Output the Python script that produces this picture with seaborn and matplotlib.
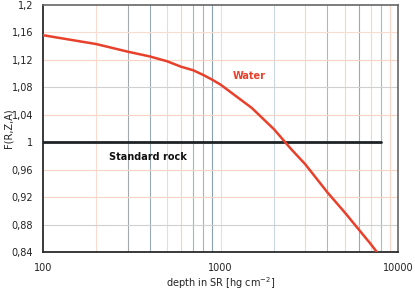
import numpy as np
import pandas as pd
import seaborn as sns
import matplotlib.pyplot as plt
from matplotlib.ticker import FixedLocator, FuncFormatter, MultipleLocator

# donnees
depth = [100, 200, 300, 400, 500, 600, 700, 800, 900, 1000, 1500, 2000, 2500, 3000, 4000, 5000, 6000, 7000, 7600]
f_water = [1.156, 1.143, 1.132, 1.125, 1.118, 1.110, 1.105, 1.098, 1.091, 1.084, 1.050, 1.019, 0.990, 0.968, 0.927,
           0.898, 0.873, 0.852, 0.840]
rock_depth = [100, 8000]
f_rock = [1.0, 1.0]
x_ticks = [100, 1000, 10000]
y_ticks = [0.84, 0.88, 0.92, 0.96, 1.0, 1.04, 1.08, 1.12, 1.16, 1.2]

sns.set_style("white")
plt.rcParams["font.family"] = ["DejaVu Sans"]

df = pd.DataFrame({"depth": depth, "F": f_water})
df_rock = pd.DataFrame({"depth": rock_depth, "F": f_rock})

fig = plt.figure(figsize=(4.15, 2.91), dpi=100)
ax = fig.add_axes([43 / 415, 1 - 252 / 291, 355 / 415, 247 / 291])

# grille (couleurs melangees comme sur l'original)
vcols = {200: "#f9dcd0", 300: "#a4a9ae", 400: "#9aabb6", 500: "#dcdfe1", 600: "#f6d2c2",
         700: "#9cb9c7", 800: "#aeb2b6", 900: "#8aa0ad", 1000: "#dfe1e3", 2000: "#ccd8df",
         3000: "#f8d6c8", 4000: "#a8b9c4", 5000: "#f8d6c8", 6000: "#95a9b6", 7000: "#f8d6c8",
         8000: "#a8b9c4", 9000: "#f8d6c8"}
for v, c in vcols.items():
    ax.axvline(v, color=c, lw=0.8, zorder=0)
hcols = {1.16: "#f9dcd0", 1.12: "#f8d4c4", 1.08: "#d0d0d0", 1.04: "#f8d4c4",
         0.96: "#f8d4c4", 0.92: "#f8d4c4", 0.88: "#d0d0d0"}
for v, c in hcols.items():
    ax.axhline(v, color=c, lw=0.8, zorder=0)

sns.lineplot(data=df_rock, x="depth", y="F", color="#1e2326", lw=2, ax=ax, zorder=3)
sns.lineplot(data=df, x="depth", y="F", color="#e8402a", lw=1.8, ax=ax, zorder=4)

ax.set_xscale("log")
ax.set_xlim(100, 10000)
ax.set_ylim(0.84, 1.2)
ax.xaxis.set_major_locator(FixedLocator(x_ticks))
ax.xaxis.set_minor_locator(FixedLocator([]))
ax.xaxis.set_major_formatter(FuncFormatter(lambda v, p: f"{v:.0f}"))
ax.yaxis.set_major_locator(FixedLocator(y_ticks))
ax.yaxis.set_minor_locator(MultipleLocator(0.008))
ax.yaxis.set_major_formatter(FuncFormatter(lambda v, p: f"{v:.2f}".rstrip("0").rstrip(".").replace(".", ",")))

ax.tick_params(axis="x", which="major", direction="out", length=3, width=0.8, color="#333333",
               labelsize=7, pad=5, labelcolor="#222222")
ax.tick_params(axis="y", which="major", direction="in", length=3, width=0.8, color="#555555",
               labelsize=7, pad=7, labelcolor="#222222")
ax.tick_params(axis="y", which="minor", direction="in", length=2, width=0.6, color="#777777")

for s in ["left", "bottom"]:
    ax.spines[s].set_color("#2a2a2a")
    ax.spines[s].set_linewidth(1.3)
for s in ["top", "right"]:
    ax.spines[s].set_color("#666666")
    ax.spines[s].set_linewidth(1.2)

ax.set_xlabel("depth in SR [hg cm$^{-2}$]", fontsize=7, color="#222222", va="center")
ax.set_ylabel("F(R,Z,A)", fontsize=7, color="#222222", va="center")
ax.xaxis.set_label_coords(0.5, -0.124)
ax.yaxis.set_label_coords(-0.097, 0.5)

ax.text(1172, 1.0967, "Water", color="#e8402a", fontsize=7, fontweight="bold", va="center")
ax.text(236, 0.979, "Standard rock", color="#111111", fontsize=7, fontweight="bold", va="center")

fig.savefig("out.png", dpi=100)
